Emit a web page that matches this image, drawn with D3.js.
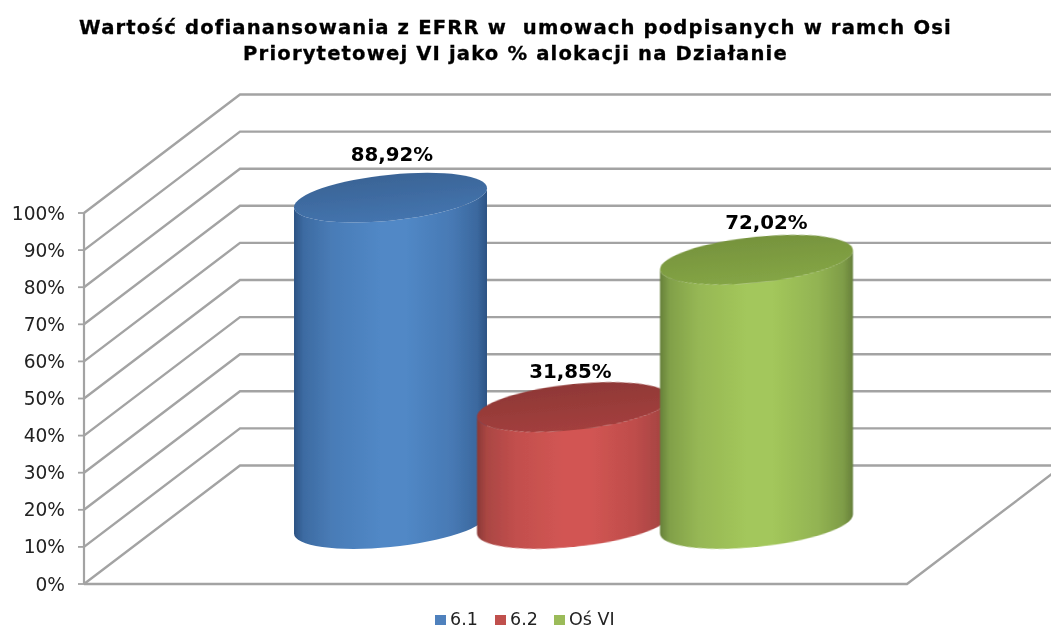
<!DOCTYPE html>
<html><head><meta charset="utf-8">
<script src="https://cdn.jsdelivr.net/npm/d3@7/dist/d3.min.js"></script>
<style>html,body{margin:0;padding:0;background:#fff;overflow:hidden}text{font-family:"DejaVu Sans",Verdana,sans-serif;white-space:pre}</style>
</head><body><svg id="c" width="1051" height="628"></svg>
<script>
const categories = ["6.1", "6.2", "Oś VI"];
const values = [88.92, 31.85, 72.02];
const valueLabels = ["88,92%", "31,85%", "72,02%"];
const tickValues = [0,10,20,30,40,50,60,70,80,90,100];
const titleLines = ["Wartość dofianansowania z EFRR w  umowach podpisanych w ramch Osi", "Priorytetowej VI jako % alokacji na Działanie"];
const palette = [
 {edge:"#2c5384",mid:"#5188c6",top:"#4474ae",topDark:"#3a6496",swatch:"#4f81bd"},
 {edge:"#8a3936",mid:"#d25553",top:"#a33f3d",topDark:"#8f3836",swatch:"#c0504d"},
 {edge:"#66803a",mid:"#a3c75b",top:"#84a545",topDark:"#76933d",swatch:"#9bbb59"}
];
const W=1051,H=628;
const svg=d3.select("#c");
const y=d3.scaleLinear().domain([0,100]).range([584,213]);
const barHeight=d3.scaleLinear().domain([0,100]).range([0,367]);
const x=d3.scaleBand().domain(categories).range([299,848]).padding(0);
const depthX=156, depthY=-118.5, floorRight=907, grid="#a3a3a3";
const defs=svg.append("defs");
defs.append("clipPath").attr("id","page").append("rect").attr("width",W).attr("height",H);
defs.append("filter").attr("id","soft").append("feGaussianBlur").attr("stdDeviation",0.5);
const g=svg.append("g").attr("clip-path","url(#page)");
const lines=g.append("g").attr("filter","url(#soft)");
const labels=svg.append("g");

tickValues.forEach(t=>{
  const py=y(t);
  const pts=[[84,py],[84+depthX,py+depthY],[W+5,py+depthY]];
  lines.append("path").attr("d",d3.line()(pts)).attr("fill","none").attr("stroke",grid).attr("stroke-width",2.4);
  lines.append("line").attr("x1",78).attr("x2",84).attr("y1",py).attr("y2",py).attr("stroke",grid).attr("stroke-width",1.8);
  labels.append("text").attr("x",65).attr("y",py+6.5).attr("text-anchor","end").attr("font-size",18.6).attr("fill","#222").text(t+"%");
});
lines.append("path").attr("d",d3.line()([[84,y(0)],[floorRight,y(0)],[floorRight+depthX,y(0)+depthY]])).attr("fill","none").attr("stroke",grid).attr("stroke-width",2.4);
lines.append("line").attr("x1",84).attr("x2",84).attr("y1",y(0)).attr("y2",y(100)).attr("stroke",grid).attr("stroke-width",2.2);

const rx=96.5, ry=23, lean=9.5, baseY=524;
const labelShift=[[1.5,-37],[-3,-29],[10,-31]];
const skew=Math.atan(-lean/rx)*180/Math.PI;
palette.forEach((p,i)=>{
  const mix=d3.interpolateRgb(p.edge,p.mid);
  const gb=defs.append("linearGradient").attr("id","b"+i);
  [[0,p.edge],[.05,mix(.45)],[.2,mix(.78)],[.45,p.mid],[.58,p.mid],[.82,mix(.72)],[.95,mix(.4)],[1,p.edge]].forEach(s=>{
    gb.append("stop").attr("offset",s[0]).attr("stop-color",s[1]);
  });
  const gt=defs.append("linearGradient").attr("id","t"+i).attr("x1",0).attr("x2",0).attr("y1",0).attr("y2",1);
  gt.append("stop").attr("offset",0).attr("stop-color",p.topDark);
  gt.append("stop").attr("offset",1).attr("stop-color",p.top);
});
const bars=g.append("g").attr("filter","url(#soft)");
[0,1,2].forEach(i=>{
  const cx=x(categories[i])+x.bandwidth()/2, top=baseY-barHeight(values[i]);
  const c=bars.append("g").attr("transform",`translate(${cx},0) skewY(${skew})`);
  c.append("path").attr("d",`M${-rx},${top}L${-rx},${baseY}A${rx},${ry} 0 0 0 ${rx},${baseY}L${rx},${top}A${rx},${ry} 0 0 1 ${-rx},${top}Z`).attr("fill",`url(#b${i})`);
  c.append("ellipse").attr("cx",0).attr("cy",top).attr("rx",rx).attr("ry",ry).attr("fill",`url(#t${i})`);
  labels.append("text").attr("x",cx+labelShift[i][0]).attr("y",top+labelShift[i][1]).attr("text-anchor","middle").attr("font-size",19.8).attr("font-weight","bold").attr("fill","#000").text(valueLabels[i]);
});

titleLines.forEach((l,i)=>{
  svg.append("text").attr("x",515.5).attr("y",33.5+i*26.5).attr("text-anchor","middle").attr("font-size",19.6).attr("letter-spacing",1.15).attr("font-weight","bold").attr("stroke","#000").attr("stroke-width",0.3).attr("fill","#000").text(l);
});
const legendX=d3.scaleOrdinal().domain(categories).range([435,495,554]);
categories.forEach((c,i)=>{
  const lx=legendX(c);
  svg.append("rect").attr("x",lx).attr("y",615).attr("width",11).attr("height",10).attr("fill",palette[i].swatch);
  svg.append("text").attr("x",lx+15).attr("y",625).attr("font-size",17.5).attr("fill","#222").text(c);
});
</script></body></html>
